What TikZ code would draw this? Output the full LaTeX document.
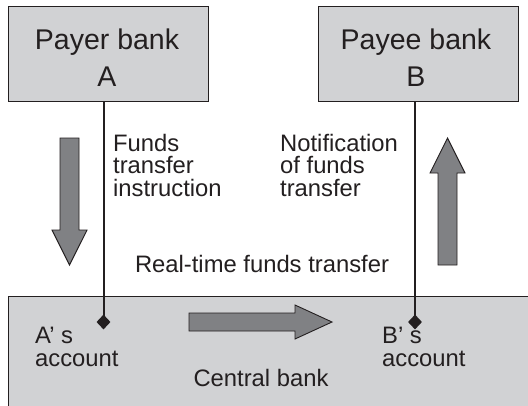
\documentclass[tikz,border=0pt]{standalone}
\usepackage{fontspec}
\setmainfont{Liberation Sans}
\usetikzlibrary{shapes.geometric}
\definecolor{boxgray}{HTML}{D1D2D4}
\definecolor{arrgray}{HTML}{808184}
\definecolor{ink}{HTML}{231F20}
\tikzset{
  bankbox/.style={draw=ink, line width=0.9pt, fill=boxgray},
  bigtxt/.style={font=\fontsize{28.5}{36.5}\selectfont, text=ink, align=center, inner sep=0pt},
  smalltxt/.style={font=\fontsize{23.8}{22.6}\selectfont, text=ink, align=left, inner sep=0pt},
  bigarrow/.style={draw=ink, line width=0.9pt, fill=arrgray},
  link/.style={draw=ink, line width=2pt},
  endmark/.style={diamond, fill=ink, inner sep=0pt, minimum width=14pt, minimum height=15pt}
}
\begin{document}
\begin{tikzpicture}[x=1pt, y=-1pt]
\clip (0,0) rectangle (528,405);
\fill[white] (0,0) rectangle (528,405);
% central bank
\path[bankbox] (8,296) rectangle (545,420);
% bank boxes
\path[bankbox] (8,6) rectangle (208,101);
\path[bankbox] (318,6) rectangle (518,101);
\coordinate (payer) at (108,101);
\coordinate (payee) at (418,101);
\node[bigtxt, anchor=base] (payertxt) at (107,86) {Payer bank\\A};
\node[bigtxt, anchor=base] (payeetxt) at (416,86) {Payee bank\\B};
% diamonds
\node[endmark] (dA) at (103.5,322) {};
\node[endmark] (dB) at (415,322) {};
\draw[link] (dA |- payer) -- (dA.center);
\draw[link] (dB |- payee) -- (dB.center);
% big arrows
\path[bigarrow] (60,138) -- (79,138) -- (79,230) -- (87,230) -- (69.5,265) -- (52,230) -- (60,230) -- cycle;
\path[bigarrow] (438,265) -- (457,265) -- (457,173) -- (465,173) -- (447.5,138) -- (430,173) -- (438,173) -- cycle;
\path[bigarrow] (189,313) -- (295,313) -- (295,305) -- (332,322) -- (295,339) -- (295,331) -- (189,331) -- cycle;
% labels
\node[smalltxt, anchor=base west] (fti) at (113,196.5) {Funds\\transfer\\instruction};
\node[smalltxt, anchor=base west] (nft) at (280,196.5) {Notification\\of funds\\transfer};
\node[smalltxt, anchor=base] (rtft) at (262,272) {Real-time funds transfer};
\node[smalltxt, anchor=base west] (acA) at (35,366.5) {A’ s\\account};
\node[smalltxt, anchor=base west] (acB) at (382,366.5) {B’ s\\account};
\node[smalltxt, anchor=base] (cb) at (261,386) {Central bank};
\end{tikzpicture}
\end{document}
